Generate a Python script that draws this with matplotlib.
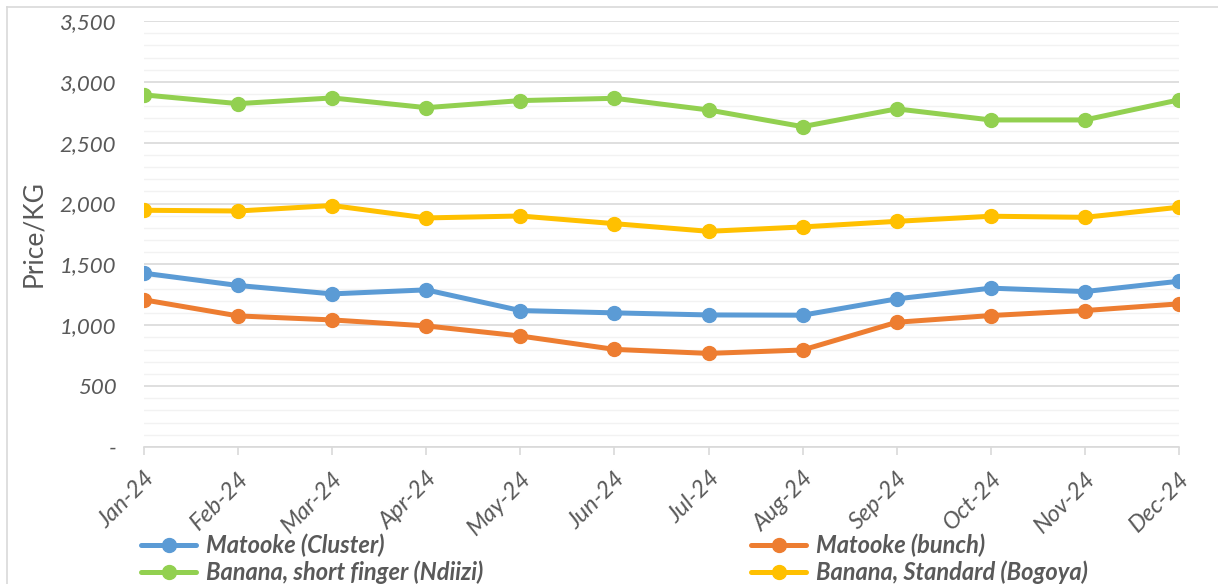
import matplotlib
matplotlib.use("Agg")
import matplotlib.pyplot as plt
from matplotlib.lines import Line2D
from matplotlib.ticker import MultipleLocator, FuncFormatter

# data
months = ['Jan-24', 'Feb-24', 'Mar-24', 'Apr-24', 'May-24', 'Jun-24',
          'Jul-24', 'Aug-24', 'Sep-24', 'Oct-24', 'Nov-24', 'Dec-24']
matooke_cluster = [1428, 1327, 1258, 1291, 1121, 1102, 1085, 1083, 1217, 1305, 1277, 1362]
matooke_bunch = [1209, 1077, 1044, 995, 912, 802, 769, 797, 1025, 1080, 1121, 1176]
ndiizi = [2893, 2821, 2868, 2788, 2846, 2865, 2769, 2632, 2778, 2687, 2687, 2852]
bogoya = [1945, 1939, 1984, 1882, 1898, 1835, 1772, 1808, 1854, 1896, 1887, 1970]

series = [
    ('Matooke (Cluster)', matooke_cluster, '#5B9BD5'),
    ('Matooke (bunch)', matooke_bunch, '#ED7D31'),
    ('Banana, short finger (Ndiizi)', ndiizi, '#92D050'),
    ('Banana, Standard (Bogoya)', bogoya, '#FFC000'),
]

plt.rcParams['font.family'] = ['Lato', 'DejaVu Sans']
txt = '#595959'

fig = plt.figure(figsize=(12.18, 5.84), dpi=100)
ax = fig.add_axes([144 / 1218, 1 - 447 / 584, (1179 - 144) / 1218, (447 - 21) / 584])

x = list(range(len(months)))
handles = {}
for name, vals, col in series:
    h, = ax.plot(x, vals, color=col, lw=3.6, marker='o', ms=10, solid_capstyle='round', label=name)
    handles[name] = h

ax.set_xlim(0, len(months) - 1)
ax.set_ylim(0, 3500)
ax.yaxis.set_major_locator(MultipleLocator(500))
ax.yaxis.set_minor_locator(MultipleLocator(100))
ax.yaxis.set_major_formatter(FuncFormatter(lambda v, p: '-' if v == 0 else f'{int(v):,}'))
ax.grid(True, which='major', axis='y', color='#D9D9D9', lw=1.2, zorder=0)
ax.grid(True, which='minor', axis='y', color='#F2F2F2', lw=1.0, zorder=0)
ax.set_axisbelow(True)

for s in ['top', 'right', 'left']:
    ax.spines[s].set_visible(False)
ax.spines['bottom'].set_color('#D9D9D9')
ax.spines['bottom'].set_linewidth(1.2)

ax.tick_params(axis='y', which='both', length=0, pad=20, labelsize=16, labelcolor=txt)
for t in ax.get_yticklabels():
    t.set_fontstyle('italic')
ax.set_xticks(x)
ax.set_xticklabels(months, rotation=45, ha='right', va='top', rotation_mode='anchor',
                   fontsize=17, color=txt, style='italic')
ax.tick_params(axis='x', length=6, color='#D9D9D9', width=1.2, pad=9)
ax.set_ylabel('Price/KG', fontsize=19, color=txt)
ax.yaxis.set_label_coords(-0.095, 0.5)

leg_kw = dict(loc='upper left', frameon=False, handlelength=2.35, handletextpad=0.42,
              labelspacing=0.14, borderaxespad=0, borderpad=0,
              prop={'size': 17, 'style': 'italic', 'weight': 'bold'}, labelcolor=txt)
fig.legend([handles['Matooke (Cluster)'], handles['Banana, short finger (Ndiizi)']],
           ['Matooke (Cluster)', 'Banana, short finger (Ndiizi)'],
           bbox_to_anchor=(141 / 1218, 1 - 534 / 584), **leg_kw)
fig.legend([handles['Matooke (bunch)'], handles['Banana, Standard (Bogoya)']],
           ['Matooke (bunch)', 'Banana, Standard (Bogoya)'],
           bbox_to_anchor=(751 / 1218, 1 - 534 / 584), **leg_kw)

# chart area border (top and left visible in the crop)
fig.add_artist(Line2D([7 / 1218, 1], [1 - 7 / 584, 1 - 7 / 584], color='#D9D9D9', lw=1.2))
fig.add_artist(Line2D([7 / 1218, 7 / 1218], [0, 1 - 7 / 584], color='#D9D9D9', lw=1.2))

fig.savefig('out.png', dpi=100)
